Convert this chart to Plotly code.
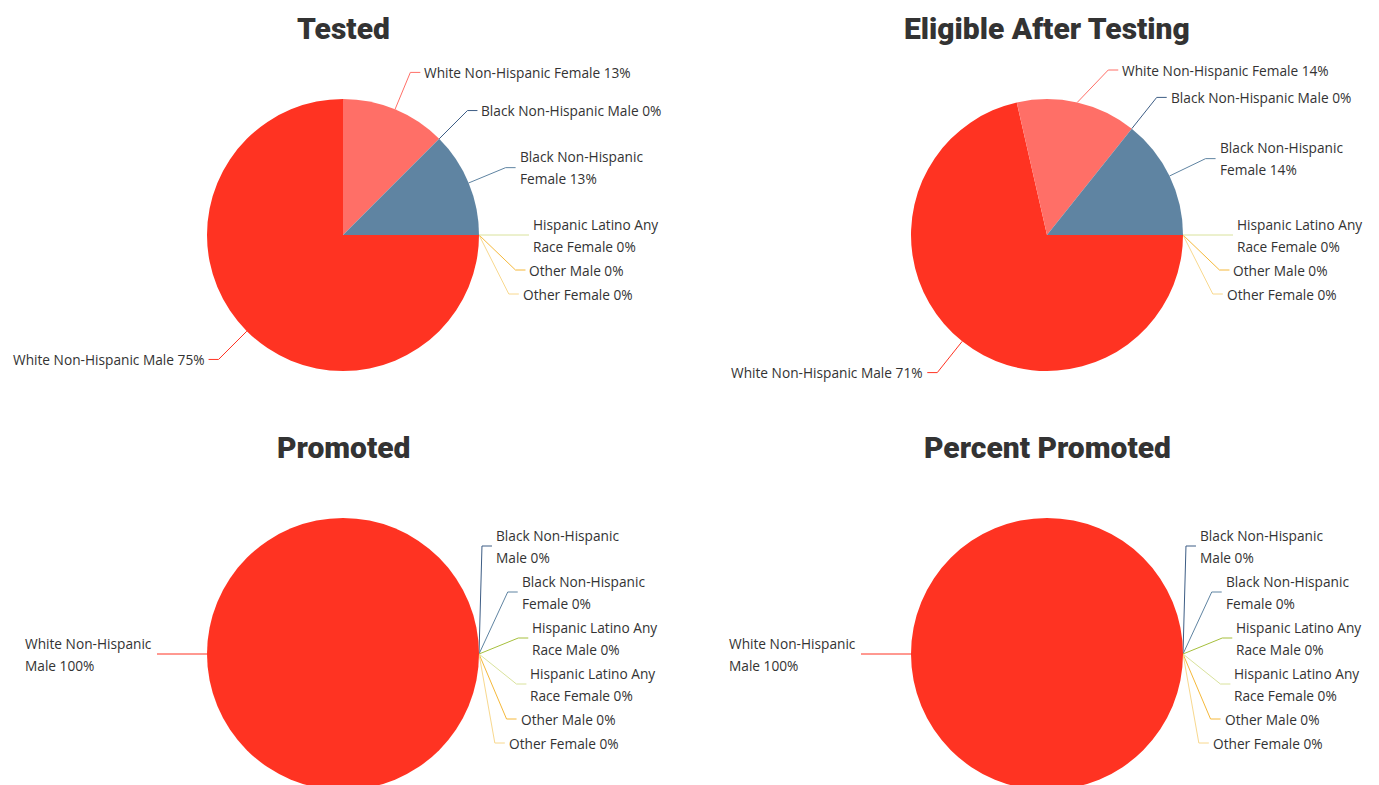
import math
import plotly.graph_objects as go

# ---------------- data ----------------
tested_categories = ["White Non-Hispanic Male", "White Non-Hispanic Female", "Black Non-Hispanic Male",
                     "Black Non-Hispanic Female", "Hispanic Latino Any Race Female", "Other Male", "Other Female"]
tested_values = [6, 1, 0, 1, 0, 0, 0]

eligible_categories = ["White Non-Hispanic Male", "White Non-Hispanic Female", "Black Non-Hispanic Male",
                       "Black Non-Hispanic Female", "Hispanic Latino Any Race Female", "Other Male", "Other Female"]
eligible_values = [5, 1, 0, 1, 0, 0, 0]

promoted_categories = ["White Non-Hispanic Male", "Black Non-Hispanic Male", "Black Non-Hispanic Female",
                       "Hispanic Latino Any Race Male", "Hispanic Latino Any Race Female", "Other Male", "Other Female"]
promoted_values = [1, 0, 0, 0, 0, 0, 0]

percent_promoted_categories = ["White Non-Hispanic Male", "Black Non-Hispanic Male", "Black Non-Hispanic Female",
                               "Hispanic Latino Any Race Male", "Hispanic Latino Any Race Female", "Other Male",
                               "Other Female"]
percent_promoted_values = [100, 0, 0, 0, 0, 0, 0]

titles = ["Tested", "Eligible After Testing", "Promoted", "Percent Promoted"]

# ---------------- styles ----------------
CAT_COLORS = {
    "White Non-Hispanic Male": "#ff3322",
    "White Non-Hispanic Female": "#ff6f67",
    "Black Non-Hispanic Male": "#3d5d85",
    "Black Non-Hispanic Female": "#5f84a2",
    "Hispanic Latino Any Race Male": "#a6bf3c",
    "Hispanic Latino Any Race Female": "#d9e29c",
    "Other Male": "#f5b83a",
    "Other Female": "#f8d88e",
}

OFF = 8                  # page body margin: the figure starts 8px in
W, H = 1379 - OFF, 792 - OFF
R = 136
LEN1 = 40
LEN2 = 10
TEXT_GAP = 2
LINE_H = 22
BLEED = 10
CHAR_W = 7.0
LABEL_FONT = dict(family="Open Sans, Noto Sans, sans-serif", size=13.7, color="#333333")
TITLE_FONT = dict(family="Roboto, Liberation Sans Narrow, sans-serif",
                  size=30, color="#333333", weight=900)

layouts = [
    dict(cx=343, cy=235, view=(0, 689.5)),
    dict(cx=1047, cy=235, view=(689.5, 1379)),
    dict(cx=343, cy=654, view=(0, 689.5)),
    dict(cx=1047, cy=654, view=(689.5, 1379)),
]
datasets = [
    (tested_categories, tested_values),
    (eligible_categories, eligible_values),
    (promoted_categories, promoted_values),
    (percent_promoted_categories, percent_promoted_values),
]


def text_w(s):
    return len(s) * CHAR_W


def wrap(text, avail):
    if text_w(text) <= avail:
        return [text]
    words = text.split(" ")
    lines, cur = [], ""
    for wd in words:
        trial = wd if not cur else cur + " " + wd
        if cur and text_w(trial) > avail:
            lines.append(cur)
            cur = wd
        else:
            cur = trial
    if cur:
        lines.append(cur)
    return lines


def shift_layout(items, min_b, max_b):
    n = len(items)
    if n < 2:
        return
    items.sort(key=lambda it: it["top"])
    last = min_b
    for it in items:
        d = it["top"] - last
        if d < 0:
            it["top"] -= d
        last = it["top"] + it["h"]

    def shift_list(delta, s, e):
        for i in range(s, e):
            items[i]["top"] += delta

    def squeeze(delta, maxp):
        gaps = [max(items[i]["top"] - items[i - 1]["top"] - items[i - 1]["h"], 0) for i in range(1, n)]
        tot = sum(gaps)
        if not tot:
            return
        p = min(abs(delta) / tot, maxp)
        if delta > 0:
            for i in range(n - 1):
                shift_list(gaps[i] * p, 0, i + 1)
        else:
            for i in range(n - 1, 0, -1):
                shift_list(-gaps[i - 1] * p, i, n)

    def gaps_mm():
        return items[0]["top"] - min_b, max_b - items[-1]["top"] - items[-1]["h"]

    mn, mx = gaps_mm()
    if mn < 0:
        squeeze(-mn, 0.8)
    if mx < 0:
        squeeze(mx, 0.8)
    mn, mx = gaps_mm()

    def take(g, other, direction):
        if g < 0:
            mv = min(other, -g)
            if mv > 0:
                shift_list(mv * direction, 0, n)
                rem = mv + g
                if rem < 0:
                    squeeze(-rem * direction, 1)
            else:
                squeeze(-g * direction, 1)

    take(mn, mx, 1)
    take(mx, mn, -1)


fig = go.Figure()
annotations = []

for (cats, vals), lay, title in zip(datasets, layouts, titles):
    cx, cy = lay["cx"], lay["cy"]
    vl, vr = lay["view"]
    fig.add_trace(go.Pie(
        labels=cats, values=vals, sort=False, direction="clockwise", rotation=90,
        marker=dict(colors=[CAT_COLORS[c] for c in cats], line=dict(width=0)),
        textinfo="none", hoverinfo="label+percent", showlegend=False,
        domain=dict(x=[(cx - R - OFF) / W, (cx + R - OFF) / W],
                    y=[1 - (cy + R - OFF) / H, 1 - (cy - R - OFF) / H]),
    ))
    annotations.append(dict(x=cx, y=cy - 207, xref="x", yref="y", text=title, showarrow=False,
                            font=TITLE_FONT, xanchor="center", yanchor="middle"))

    total = float(sum(vals))
    ang = 90.0
    items = []
    for c, v in zip(cats, vals):
        span = v / total * 360.0
        mid = math.radians(ang + span / 2)
        ang += span
        pct = int(math.floor(v / total * 100 + 0.5))
        text = f"{c} {pct}%"
        side = -1 if math.sin(mid) < -1e-9 else 1
        sx, sy = cx + R * math.sin(mid), cy - R * math.cos(mid)
        ex, ey = cx + (R + LEN1) * math.sin(mid), cy - (R + LEN1) * math.cos(mid)
        tx = ex + side * (LEN2 + TEXT_GAP)
        avail = (vr - tx - BLEED) if side > 0 else (tx - vl - BLEED)
        lines = wrap(text, avail)
        h = LINE_H * len(lines) + 2
        items.append(dict(cat=c, side=side, sx=sx, sy=sy, lines=lines, h=h, top=ey - h / 2))

    for sd in (1, -1):
        side_items = [it for it in items if it["side"] == sd]
        shift_layout(side_items, cy - 177, cy + 101)

    for it in items:
        sd = it["side"]
        ey = it["top"] + it["h"] / 2
        dy = ey - cy
        ex = cx + sd * math.sqrt(max((R + LEN1) ** 2 - dy ** 2, 0))
        col = CAT_COLORS[it["cat"]]
        fig.add_trace(go.Scatter(
            x=[it["sx"], ex, ex + sd * LEN2], y=[it["sy"], ey, ey], mode="lines",
            line=dict(color=col, width=1), hoverinfo="skip", showlegend=False,
            xaxis="x", yaxis="y"))
        tx = ex + sd * (LEN2 + TEXT_GAP)
        n = len(it["lines"])
        block_w = max(text_w(s) for s in it["lines"])
        for i, s in enumerate(it["lines"]):
            ly = ey + (i - (n - 1) / 2) * LINE_H
            if sd > 0:
                annotations.append(dict(x=tx, y=ly, xref="x", yref="y", text=s, showarrow=False,
                                        font=LABEL_FONT, xanchor="left", yanchor="middle"))
            elif n == 1:
                annotations.append(dict(x=tx, y=ly, xref="x", yref="y", text=s, showarrow=False,
                                        font=LABEL_FONT, xanchor="right", yanchor="middle"))
            else:
                annotations.append(dict(x=tx - block_w - 6, y=ly, xref="x", yref="y", text=s,
                                        showarrow=False, font=LABEL_FONT, xanchor="left",
                                        yanchor="middle"))

fig.update_layout(
    width=W, height=H,
    margin=dict(l=0, r=0, t=0, b=0),
    paper_bgcolor="white", plot_bgcolor="white",
    xaxis=dict(range=[OFF, OFF + W], domain=[0, 1], visible=False, fixedrange=True),
    yaxis=dict(range=[OFF + H, OFF], domain=[0, 1], visible=False, fixedrange=True),
    annotations=annotations,
)

fig.write_html("out.html")
